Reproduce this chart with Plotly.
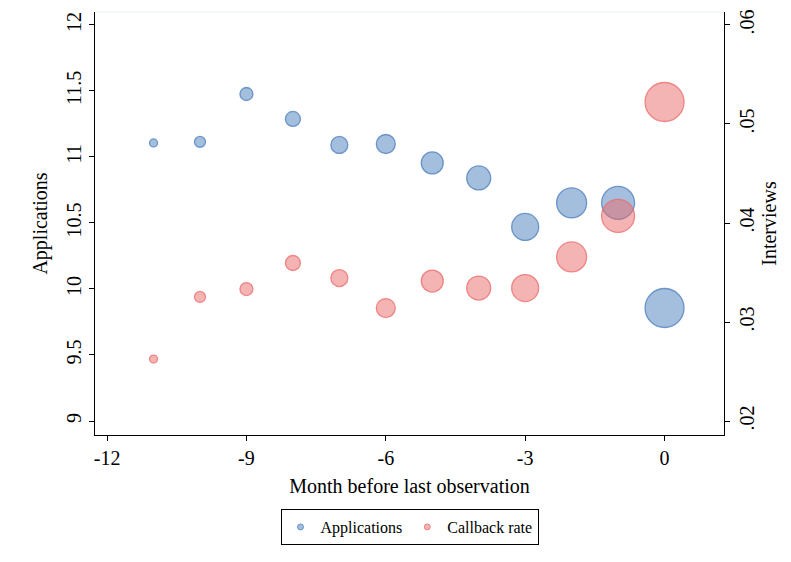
import plotly.graph_objects as go

# Months before the last observation
months = [-11, -10, -9, -8, -7, -6, -5, -4, -3, -2, -1, 0]
# Average applications per month (left axis)
applications = [11.106, 11.114, 11.477, 11.288, 11.091, 11.098, 10.955, 10.841, 10.470, 10.652, 10.652, 9.856]
# Callback rate (right axis)
callback_rate = [0.02626, 0.03253, 0.03333, 0.03596, 0.03444, 0.03141, 0.03414, 0.03343, 0.03343, 0.03657, 0.04071, 0.05222]
# Marker diameters (weight of each month)
weights = [8, 11, 13, 15, 17, 19, 22, 24, 27, 30, 33, 39]

left_ticks = [9, 9.5, 10, 10.5, 11, 11.5, 12]
left_labels = ["9", "9.5", "10", "10.5", "11", "11.5", "12"]
right_ticks = [0.02, 0.03, 0.04, 0.05, 0.06]
right_labels = [".02", ".03", ".04", ".05", ".06"]
x_ticks = [-12, -9, -6, -3, 0]
x_labels = ["-12", "-9", "-6", "-3", "0"]

FONT = "Liberation Serif"
BLUE_FILL = "rgba(74,126,187,0.5)"
BLUE_LINE = "rgba(74,126,187,0.75)"
RED_FILL = "rgba(235,105,105,0.5)"
RED_LINE = "rgba(235,105,105,0.75)"

fig = go.Figure()

fig.add_trace(go.Scatter(
    x=months, y=applications, mode="markers", name="Applications",
    legendgroup="app", showlegend=False, yaxis="y",
    marker=dict(size=weights, sizemode="diameter", color=BLUE_FILL, opacity=1,
                line=dict(color=BLUE_LINE, width=1.3)),
))
fig.add_trace(go.Scatter(
    x=months, y=callback_rate, mode="markers", name="Callback rate",
    legendgroup="cb", showlegend=False, yaxis="y2",
    marker=dict(size=weights, sizemode="diameter", color=RED_FILL, opacity=1,
                line=dict(color=RED_LINE, width=1.3)),
))
# Legend entries with small fixed-size symbols
fig.add_trace(go.Scatter(
    x=[None], y=[None], mode="markers", name="Applications", legendgroup="app",
    marker=dict(size=6, color=BLUE_FILL, opacity=1, line=dict(color=BLUE_LINE, width=1)),
))
fig.add_trace(go.Scatter(
    x=[None], y=[None], mode="markers", name="Callback rate", legendgroup="cb", yaxis="y2",
    marker=dict(size=6, color=RED_FILL, opacity=1, line=dict(color=RED_LINE, width=1)),
))

axis_common = dict(
    showline=True, linecolor="black", linewidth=1, showgrid=False, zeroline=False,
    ticks="outside", ticklen=5, tickcolor="black", tickwidth=1, automargin=False,
    tickfont=dict(family=FONT, size=20, color="black"),
)

fig.update_layout(
    width=791, height=562,
    margin=dict(l=95, r=67, t=12, b=127),
    paper_bgcolor="white", plot_bgcolor="white",
    font=dict(family=FONT, color="black"),
    xaxis=dict(
        **axis_common, range=[-12.26, 1.28], tickvals=x_ticks, ticktext=x_labels,
        title=dict(text="Month before last observation", font=dict(family=FONT, size=20), standoff=10),
    ),
    yaxis=dict(
        **axis_common, range=[8.894, 12.098], tickvals=left_ticks, ticktext=left_labels,
        tickangle=-90,
        title=dict(text="Applications", font=dict(family=FONT, size=20), standoff=10),
    ),
    yaxis2=dict(
        **axis_common, range=[0.01859, 0.06131], tickvals=right_ticks, ticktext=right_labels,
        tickangle=-90, overlaying="y", side="right",
        title=dict(text="Interviews", font=dict(family=FONT, size=20), standoff=2),
    ),
    legend=dict(
        orientation="h", x=0.5, xanchor="center", y=-0.175, yanchor="top",
        bordercolor="black", borderwidth=1, bgcolor="white",
        font=dict(family=FONT, size=16), itemsizing="trace",
    ),
    showlegend=True,
    shapes=[dict(type="line", xref="paper", yref="paper", x0=0, x1=1, y0=1, y1=1,
                 line=dict(color="#e8eff2", width=1))],
)

fig.write_html("out.html")
